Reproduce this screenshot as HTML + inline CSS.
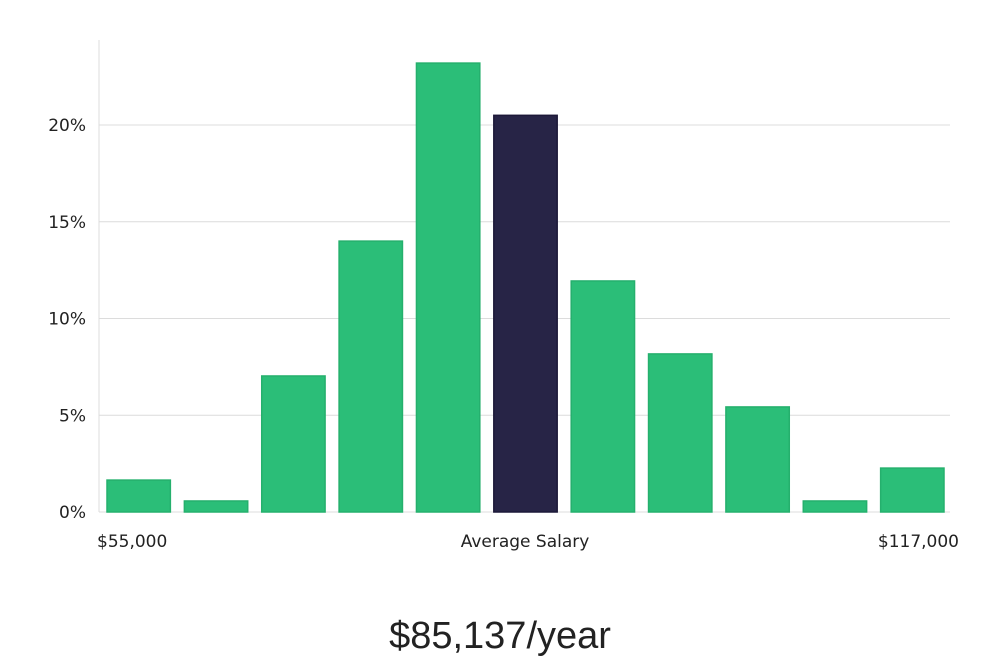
<!DOCTYPE html>
<html><head><meta charset="utf-8"><style>
body{margin:0;background:#fff;width:1000px;height:660px;overflow:hidden;font-family:"Liberation Sans","DejaVu Sans",sans-serif;}
svg text{font-family:"DejaVu Sans","Liberation Sans",sans-serif;}
</style></head><body>
<svg width="1000" height="660" viewBox="0 0 1000 660" xmlns="http://www.w3.org/2000/svg">
<g id="grid"></g>
<g id="bars"></g>
<g id="labels"></g>
<text x="500" y="648" text-anchor="middle" font-size="38" fill="#222" style="font-family:'Liberation Sans',sans-serif;font-weight:300">$85,137/year</text>
</svg>
<script>
const categories=["b1","b2","b3","b4","b5","b6","b7","b8","b9","b10","b11"];
const values=[1.65,0.57,7.03,14.0,23.2,20.5,11.94,8.17,5.43,0.57,2.27];
const highlightIndex=5;
const yTicks=[0,5,10,15,20];
const yTickLabels=["0%","5%","10%","15%","20%"];
const xLabels=["$55,000","Average Salary","$117,000"];
const NS="http://www.w3.org/2000/svg";
const X0=99,X1=950,Y0=512,pxPerPct=(512-125)/20;
const y=v=>Y0-v*pxPerPct;
const band=(X1-X0)/categories.length;
const bx=i=>X0+i*band+8;
const bw=band-14;
function mk(t,a,p){const e=document.createElementNS(NS,t);for(const k in a)e.setAttribute(k,a[k]);p.appendChild(e);return e;}
const g=document.getElementById('grid'),b=document.getElementById('bars'),l=document.getElementById('labels');
yTicks.forEach((t,i)=>{
 if(t>0){const ln=mk('line',{x1:X0,x2:X1,y1:y(t),y2:y(t),stroke:'#dcdcdc','stroke-width':1},g);
 
 }
 const tx=mk('text',{x:86,y:y(t)+6,'text-anchor':'end','font-size':17,fill:'#222'},l);
 tx.textContent=yTickLabels[i];
 
 
});
const ax=mk('line',{x1:X0,x2:X0,y1:40,y2:Y0,stroke:'#dcdcdc','stroke-width':1},g);


const bl=mk('line',{x1:X0,x2:X1,y1:Y0,y2:Y0,stroke:'#dcdcdc','stroke-width':1},g);


values.forEach((v,i)=>{
 const hi=i===highlightIndex;
 const r=mk('rect',{x:bx(i),y:y(v),width:bw,height:Y0-y(v),fill:hi?'#272446':'#2bbe78',stroke:hi?'#1c1838':'#25b06d','stroke-width':1.5},b);
 
 
});
const xl=[[97,'start'],[525,'middle'],[959,'end']];
xLabels.forEach((s,i)=>{
 const t=mk('text',{x:xl[i][0],y:547,'text-anchor':xl[i][1],'font-size':17,fill:'#222'},l);
 t.textContent=s;
 
 
});
</script>
</body></html>
